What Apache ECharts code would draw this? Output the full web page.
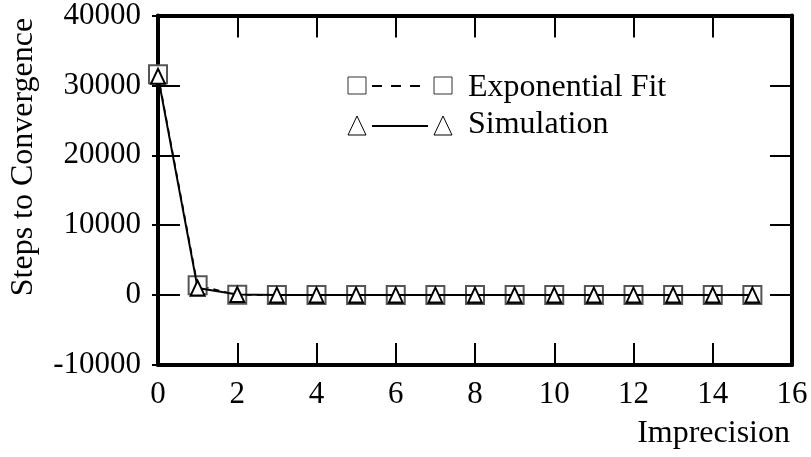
<!DOCTYPE html>
<html>
<head>
<meta charset="utf-8">
<script src="https://cdn.jsdelivr.net/npm/echarts@6/dist/echarts.min.js"></script>
<style>
* { margin: 0; padding: 0; }
body { background: #fff; }
</style>
</head>
<body>
<div id="main" style="width: 811px;height: 457px;"></div>
<script>
// imprecision values (x)
var imprecision = [0, 1, 2, 3, 4, 5, 6, 7, 8, 9, 10, 11, 12, 13, 14, 15];
// steps to convergence
var fitSteps = [31600, 1400, 40, 0, 0, 0, 0, 0, 0, 0, 0, 0, 0, 0, 0, 0];
var simSteps = [31300, 1000, 80, 0, 0, 0, 0, 0, 0, 0, 0, 0, 0, 0, 0, 0];
var xRange = [0, 16];
var yRange = [-10000, 40000];

var font = 'Liberation Serif';

function pairs(ys) {
  return imprecision.map(function (x, i) { return [x, ys[i]]; });
}

var chart = echarts.init(document.getElementById('main'));

var frame = { show: true, onZero: false, lineStyle: { color: '#000', width: 4 } };
var noLine = { show: false };
var tickIn = { show: true, inside: true, length: 22, lineStyle: { color: '#000', width: 2 } };
var tickOut = { show: true, inside: false, length: 6, lineStyle: { color: '#000', width: 2 } };
var lbl = { fontFamily: font, fontSize: 31, color: '#000' };

function xAx(pos, line, tick, label) {
  return {
    type: 'value', position: pos,
    min: xRange[0], max: xRange[1], interval: 2,
    axisLine: line, axisTick: tick, splitLine: { show: false },
    axisLabel: label ? Object.assign({ margin: 14 }, lbl) : { show: false }
  };
}
function yAx(pos, line, tick, label) {
  return {
    type: 'value', position: pos,
    min: yRange[0], max: yRange[1], interval: 10000,
    axisLine: line, axisTick: tick, splitLine: { show: false },
    axisLabel: label ? Object.assign({ margin: 17, formatter: function (v) { return String(v); } }, lbl) : { show: false }
  };
}

chart.setOption({
  animation: false,
  grid: { left: 158, right: 19, top: 15, bottom: 92 },
  xAxis: [
    xAx('bottom', frame, tickIn, true),
    xAx('top', frame, tickIn, false),
    xAx('bottom', noLine, tickOut, false),
    xAx('top', noLine, tickOut, false)
  ],
  yAxis: [
    yAx('left', frame, tickIn, true),
    yAx('right', frame, tickIn, false),
    yAx('left', noLine, tickOut, false),
    yAx('right', noLine, tickOut, false)
  ],
  series: [{
    name: 'Exponential Fit',
    type: 'line',
    data: pairs(fitSteps),
    symbol: 'emptyRect',
    symbolSize: 18,
    itemStyle: { color: '#555', borderWidth: 1.2 },
    lineStyle: { color: '#000', width: 1.5, type: [6, 5] },
    z: 3
  }, {
    name: 'Simulation',
    type: 'line',
    data: pairs(simSteps),
    symbol: 'emptyTriangle',
    symbolSize: [14, 15],
    itemStyle: { color: '#000', borderWidth: 1 },
    lineStyle: { color: '#000', width: 2 },
    z: 4
  }],
  graphic: [
    // legend: Exponential Fit
    { type: 'rect', shape: { x: 348, y: 77, width: 18, height: 17 }, style: { fill: 'none', stroke: '#333', lineWidth: 1 } },
    { type: 'line', shape: { x1: 372, y1: 86, x2: 428, y2: 86 }, style: { stroke: '#000', lineWidth: 2, lineDash: [10, 9] } },
    { type: 'rect', shape: { x: 434, y: 77, width: 18, height: 17 }, style: { fill: 'none', stroke: '#333', lineWidth: 1 } },
    { type: 'text', x: 468, y: 88, style: { text: 'Exponential Fit', font: '32px "Liberation Serif"', fill: '#000', verticalAlign: 'middle' } },
    // legend: Simulation
    { type: 'polygon', shape: { points: [[348, 135], [366, 135], [357, 116]] }, style: { fill: 'none', stroke: '#000', lineWidth: 1 } },
    { type: 'line', shape: { x1: 372, y1: 126, x2: 428, y2: 126 }, style: { stroke: '#000', lineWidth: 2 } },
    { type: 'polygon', shape: { points: [[434, 135], [452, 135], [443, 116]] }, style: { fill: 'none', stroke: '#000', lineWidth: 1 } },
    { type: 'text', x: 468, y: 125, style: { text: 'Simulation', font: '32px "Liberation Serif"', fill: '#000', verticalAlign: 'middle' } },
    // axis titles
    { type: 'text', x: 24, y: 157, rotation: Math.PI / 2, style: { text: 'Steps to Convergence', font: '32px "Liberation Serif"', fill: '#000', align: 'center', verticalAlign: 'middle' } },
    { type: 'text', x: 790, y: 434, style: { text: 'Imprecision', font: '32px "Liberation Serif"', fill: '#000', align: 'right', verticalAlign: 'middle' } }
  ]
});
</script>
</body>
</html>
